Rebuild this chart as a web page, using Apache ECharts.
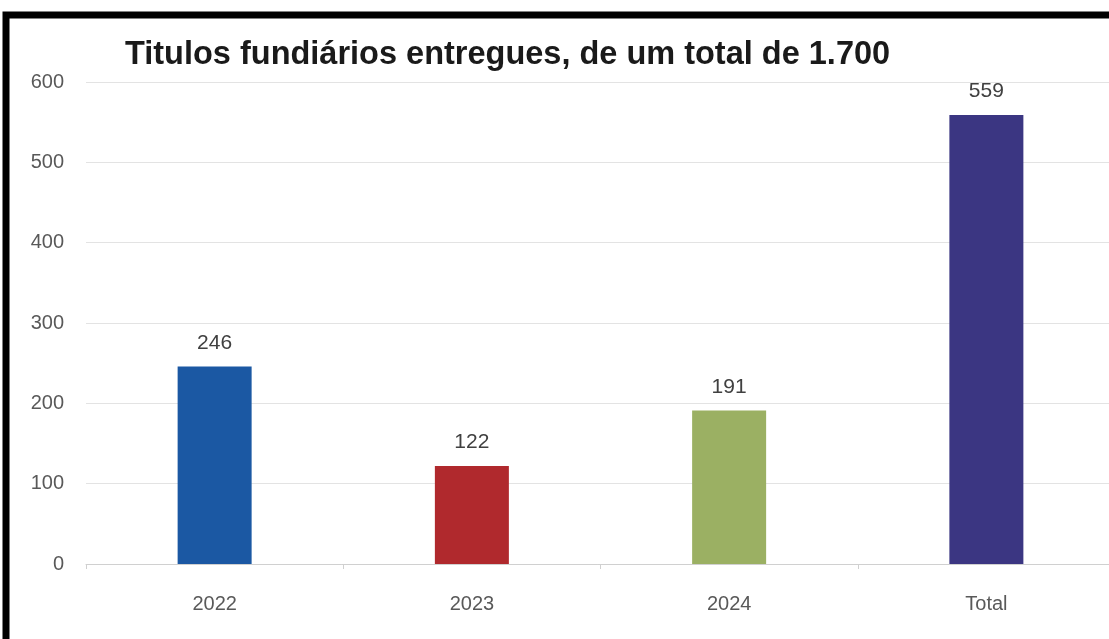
<!DOCTYPE html>
<html><head><meta charset="utf-8">
<script src="https://cdn.jsdelivr.net/npm/echarts@6/dist/echarts.min.js"></script>
<style>html,body{margin:0;padding:0;background:#fff;}#c{width:1109px;height:639px;}</style>
</head><body><div id="c"></div>
<script>
const categories = ['2022', '2023', '2024', 'Total'];
const values = [246, 122, 191, 559];
const barColors = ['#1b58a3', '#b0292d', '#9bb063', '#3b3682'];
const titleText = 'Titulos fundiários entregues, de um total de 1.700';

const chart = echarts.init(document.getElementById('c'));
chart.setOption({
  backgroundColor: '#ffffff',
  animation: false,
  title: {
    text: titleText, left: 120, top: 34,
    textStyle: { fontFamily: 'Liberation Sans', fontWeight: 'bold', fontSize: 32.5, color: '#1a1a1a' }
  },
  grid: { left: 86, width: 1029, top: 82, bottom: 75, outerBoundsMode: 'none', containLabel: false },
  xAxis: {
    type: 'category', data: categories,
    axisLine: { lineStyle: { color: '#d0d0d0', width: 1 } },
    axisTick: { show: true, length: 5, lineStyle: { color: '#d0d0d0' } },
    axisLabel: { margin: 30, fontSize: 20, color: '#595959', fontFamily: 'Liberation Sans' }
  },
  yAxis: {
    type: 'value', min: 0, max: 600, interval: 100,
    axisLine: { show: false }, axisTick: { show: false },
    splitLine: { lineStyle: { color: '#e3e3e3', width: 1 } },
    axisLabel: { margin: 22, fontSize: 20, color: '#595959', fontFamily: 'Liberation Sans' }
  },
  series: [{
    type: 'bar', barWidth: 74,
    data: values.map((v, i) => ({ value: v, itemStyle: { color: barColors[i] } })),
    label: { show: true, position: 'top', distance: 13, fontSize: 21, color: '#404040', fontFamily: 'Liberation Sans' }
  }],
  graphic: [{
    type: 'rect', silent: true,
    shape: { x: 6, y: 15, width: 1200, height: 700 },
    style: { fill: 'none', stroke: '#000', lineWidth: 7 }
  }]
});
</script></body></html>
